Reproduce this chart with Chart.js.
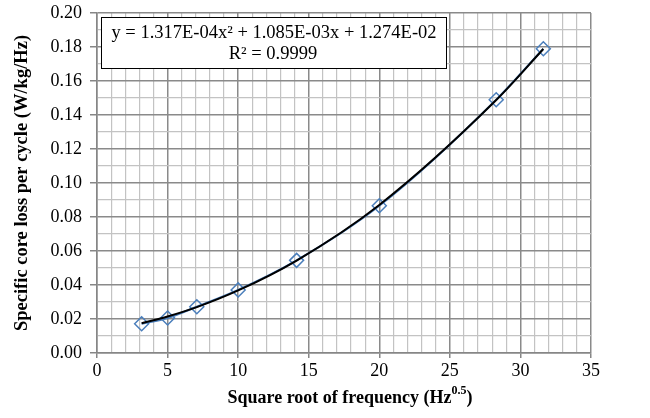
<!DOCTYPE html>
<html>
<head>
<meta charset="utf-8">
<script src="https://cdn.jsdelivr.net/npm/chart.js@4"></script>
<style>
  html, body { margin: 0; padding: 0; background: #fff; }
  #wrap { width: 650px; height: 418px; }
</style>
</head>
<body>
<div id="wrap"><canvas id="c" width="650" height="418"></canvas></div>
<script>
// square root of frequency (Hz^0.5) and measured loss per cycle
const sqrtFreq = [3.162, 5.0, 7.071, 10.0, 14.142, 20.0, 28.284, 31.623];
const lossPerCycle = [0.0172, 0.0206, 0.0272, 0.0371, 0.0545, 0.0866, 0.1490, 0.1790];
// polynomial trendline at the same x positions
const trendLoss = [0.0175, 0.0215, 0.0270, 0.0368, 0.0544, 0.0871, 0.1488, 0.1788];

const equationText = 'y = 1.317E-04x\u00b2 + 1.085E-03x + 1.274E-02';
const r2Text = 'R\u00b2 = 0.9999';

const serif = '"Liberation Serif", "Times New Roman", serif';
const majorGrid = '#8a8a8a';
const minorGrid = '#c3c3c3';

const toPts = (xs, ys) => xs.map((x, i) => ({ x, y: ys[i] }));

// equation box + x title with real superscript
const extras = {
  id: 'extras',
  afterDraw(chart) {
    const ctx = chart.ctx;
    ctx.save();

    // trendline label box
    ctx.fillStyle = '#fff';
    ctx.fillRect(101.5, 17.5, 345, 51);
    ctx.strokeStyle = '#000';
    ctx.lineWidth = 1;
    ctx.strokeRect(101.5, 17.5, 345, 51);
    ctx.fillStyle = '#000';
    ctx.font = '18.5px ' + serif;
    ctx.textAlign = 'center';
    ctx.textBaseline = 'middle';
    ctx.fillText(equationText, 274, 33);
    ctx.fillText(r2Text, 273, 54);

    // x axis title
    const mainFont = 'bold 18px ' + serif;
    const supFont = 'bold 12px ' + serif;
    const a = 'Square root of frequency (Hz';
    const s = '0.5';
    const b = ')';
    ctx.font = mainFont;
    const wa = ctx.measureText(a).width;
    const wb = ctx.measureText(b).width;
    ctx.font = supFont;
    const ws = ctx.measureText(s).width;
    const total = wa + ws + wb;
    let x = 350 - total / 2;
    const y = 398;
    ctx.textAlign = 'left';
    ctx.textBaseline = 'middle';
    ctx.font = mainFont;
    ctx.fillText(a, x, y);
    x += wa;
    ctx.font = supFont;
    ctx.fillText(s, x, y - 7);
    x += ws;
    ctx.font = mainFont;
    ctx.fillText(b, x, y);
    ctx.restore();
  }
};

new Chart(document.getElementById('c'), {
  type: 'scatter',
  data: {
    datasets: [
      {
        label: 'Trend',
        data: toPts(sqrtFreq, trendLoss),
        showLine: true,
        borderColor: '#000',
        borderWidth: 2,
        pointRadius: 0,
        cubicInterpolationMode: 'monotone',
        order: 0
      },
      {
        label: 'Measured',
        data: toPts(sqrtFreq, lossPerCycle),
        showLine: true,
        borderColor: '#4a7ebb',
        borderWidth: 2,
        cubicInterpolationMode: 'monotone',
        pointStyle: 'rectRot',
        pointRadius: 7,
        pointBorderWidth: 1.5,
        pointBorderColor: '#4a7ebb',
        pointBackgroundColor: 'rgba(255,255,255,0)',
        order: 1
      }
    ]
  },
  options: {
    responsive: false,
    animation: false,
    layout: { padding: { left: 0, top: 13, right: 59, bottom: 0 } },
    plugins: {
      legend: { display: false },
      tooltip: { enabled: false }
    },
    scales: {
      x: {
        type: 'linear',
        min: 0,
        max: 35,
        afterFit: s => { s.height = 65; s.paddingLeft = 0; s.paddingRight = 0; },
        border: { color: '#868686', width: 1.5 },
        grid: {
          color: c => (c.tick.value % 5 === 0 ? majorGrid : minorGrid),
          tickColor: c => (c.tick.value % 5 === 0 ? '#868686' : 'rgba(0,0,0,0)'),
          lineWidth: c => (c.tick.value % 5 === 0 ? 1.5 : 1.2),
          tickLength: 5
        },
        ticks: {
          stepSize: 1,
          autoSkip: false,
          maxRotation: 0,
          padding: 2,
          color: '#000',
          font: { family: serif, size: 18 },
          callback: v => (v % 5 === 0 ? String(v) : '')
        }
      },
      y: {
        min: 0,
        max: 0.2,
        afterFit: s => { s.width = 97; s.paddingTop = 0; s.paddingBottom = 0; },
        border: { color: '#868686', width: 1.5 },
        grid: {
          color: c => (Math.round(c.tick.value * 100) % 2 === 0 ? majorGrid : minorGrid),
          tickColor: c => (Math.round(c.tick.value * 100) % 2 === 0 ? '#868686' : 'rgba(0,0,0,0)'),
          lineWidth: c => (Math.round(c.tick.value * 100) % 2 === 0 ? 1.5 : 1.2),
          tickLength: 7
        },
        ticks: {
          stepSize: 0.01,
          autoSkip: false,
          padding: 8,
          color: '#000',
          font: { family: serif, size: 18 },
          callback: v => (Math.round(v * 100) % 2 === 0 ? v.toFixed(2) : '')
        },
        title: {
          display: true,
          text: 'Specific core loss per cycle (W/kg/Hz)',
          color: '#000',
          font: { family: serif, size: 18.5, weight: 'bold' },
          padding: { top: 11, bottom: 0 }
        }
      }
    }
  },
  plugins: [extras]
});
</script>
</body>
</html>
